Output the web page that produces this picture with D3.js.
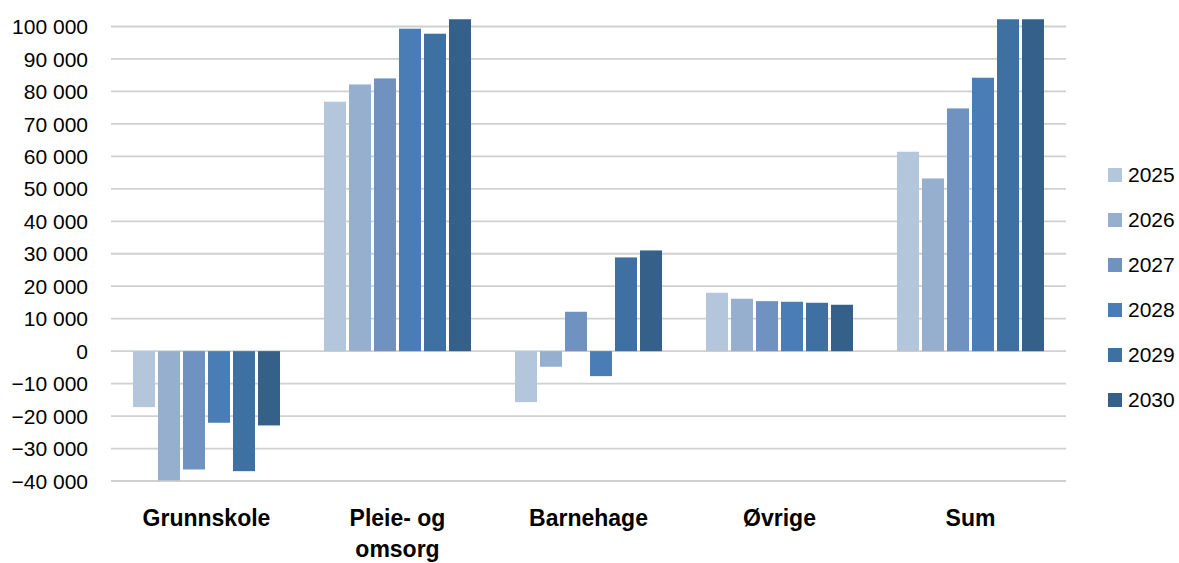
<!DOCTYPE html>
<html><head><meta charset="utf-8">
<script src="https://cdn.jsdelivr.net/npm/d3@7"></script>
<style>body{margin:0;background:#fff;}svg{display:block;}</style>
</head><body>
<svg id="chart" width="1179" height="563"></svg>
<script>
const categories = ["Grunnskole", "Pleie- og omsorg", "Barnehage", "Øvrige", "Sum"];
const years = ["2025", "2026", "2027", "2028", "2029", "2030"];
const grunnskole = [-17250, -39800, -36450, -22060, -36970, -22890];
const pleie = [76830, 82160, 84010, 99320, 97780, 103000];
const barnehage = [-15710, -4810, 12130, -7700, 28870, 31020];
const ovrige = [17990, 16140, 15400, 15210, 14900, 14290];
const sum = [61430, 53200, 74770, 84220, 104600, 125400];
const yTicks = [-40000, -30000, -20000, -10000, 0, 10000, 20000, 30000, 40000, 50000, 60000, 70000, 80000, 90000, 100000];
const colors = ["#b4c6dc", "#96afcf", "#6f92c0", "#4a7db5", "#3e71a2", "#35608a"];

const series = [grunnskole, pleie, barnehage, ovrige, sum];
const svg = d3.select("#chart");
const left = 111, right = 1066;
const y = d3.scaleLinear().domain([-40000, 100000]).range([481, 26.5]);
const x0 = d3.scaleBand().domain(categories).range([left, right]).padding(0);
const x1 = d3.scaleBand().domain(years).range([22, x0.bandwidth() - 22]).paddingInner(0.12);
const color = d3.scaleOrdinal().domain(years).range(colors);
const fmt = v => d3.format(",")(v).replace(/,/g, " ");

// gridlines
svg.append("g").selectAll("line").data(yTicks).join("line")
  .attr("x1", left).attr("x2", right)
  .attr("y1", d => y(d)).attr("y2", d => y(d))
  .attr("stroke", "#d0d0d0").attr("stroke-width", 1.8);

// y axis labels
const yAxis = d3.axisLeft(y).tickValues(yTicks).tickFormat(fmt).tickSize(0).tickPadding(0);
const ya = svg.append("g").attr("transform", "translate(88,0)").call(yAxis);
ya.select(".domain").remove();
ya.selectAll("text").attr("font-family", "Liberation Sans, Arial, sans-serif")
  .attr("font-size", 21).attr("fill", "#000").attr("dy", "0.34em");

// clip
svg.append("defs").append("clipPath").attr("id", "plot")
  .append("rect").attr("x", left).attr("y", y(102200)).attr("width", right - left).attr("height", 500);

const g = svg.append("g").attr("clip-path", "url(#plot)");
categories.forEach((c, ci) => {
  g.append("g").attr("transform", `translate(${x0(c)},0)`)
    .selectAll("rect").data(years.map((yr, i) => ({yr, v: series[ci][i]}))).join("rect")
    .attr("x", d => x1(d.yr)).attr("width", x1.bandwidth())
    .attr("y", d => y(Math.max(0, d.v))).attr("height", d => Math.abs(y(d.v) - y(0)))
    .attr("fill", d => color(d.yr));
});

// category labels
const labelLines = {"Pleie- og omsorg": ["Pleie- og", "omsorg"]};
categories.forEach(c => {
  const lines = labelLines[c] || [c];
  const t = svg.append("text").attr("x", x0(c) + x0.bandwidth() / 2).attr("y", 526)
    .attr("text-anchor", "middle").attr("font-family", "Liberation Sans, Arial, sans-serif")
    .attr("font-weight", "bold").attr("font-size", 23).attr("fill", "#000");
  lines.forEach((l, i) => t.append("tspan").attr("x", x0(c) + x0.bandwidth() / 2).attr("dy", i ? 31 : 0).text(l));
});

// legend
const lg = svg.append("g").selectAll("g").data(years).join("g")
  .attr("transform", (d, i) => `translate(1108,${175 + i * 45})`);
lg.append("rect").attr("x", 0).attr("y", -7).attr("width", 14).attr("height", 14).attr("fill", d => color(d));
lg.append("text").attr("x", 20).attr("y", 0).attr("dy", "0.35em").text(d => d)
  .attr("font-family", "Liberation Sans, Arial, sans-serif").attr("font-size", 21).attr("fill", "#000");
</script>
</body></html>
